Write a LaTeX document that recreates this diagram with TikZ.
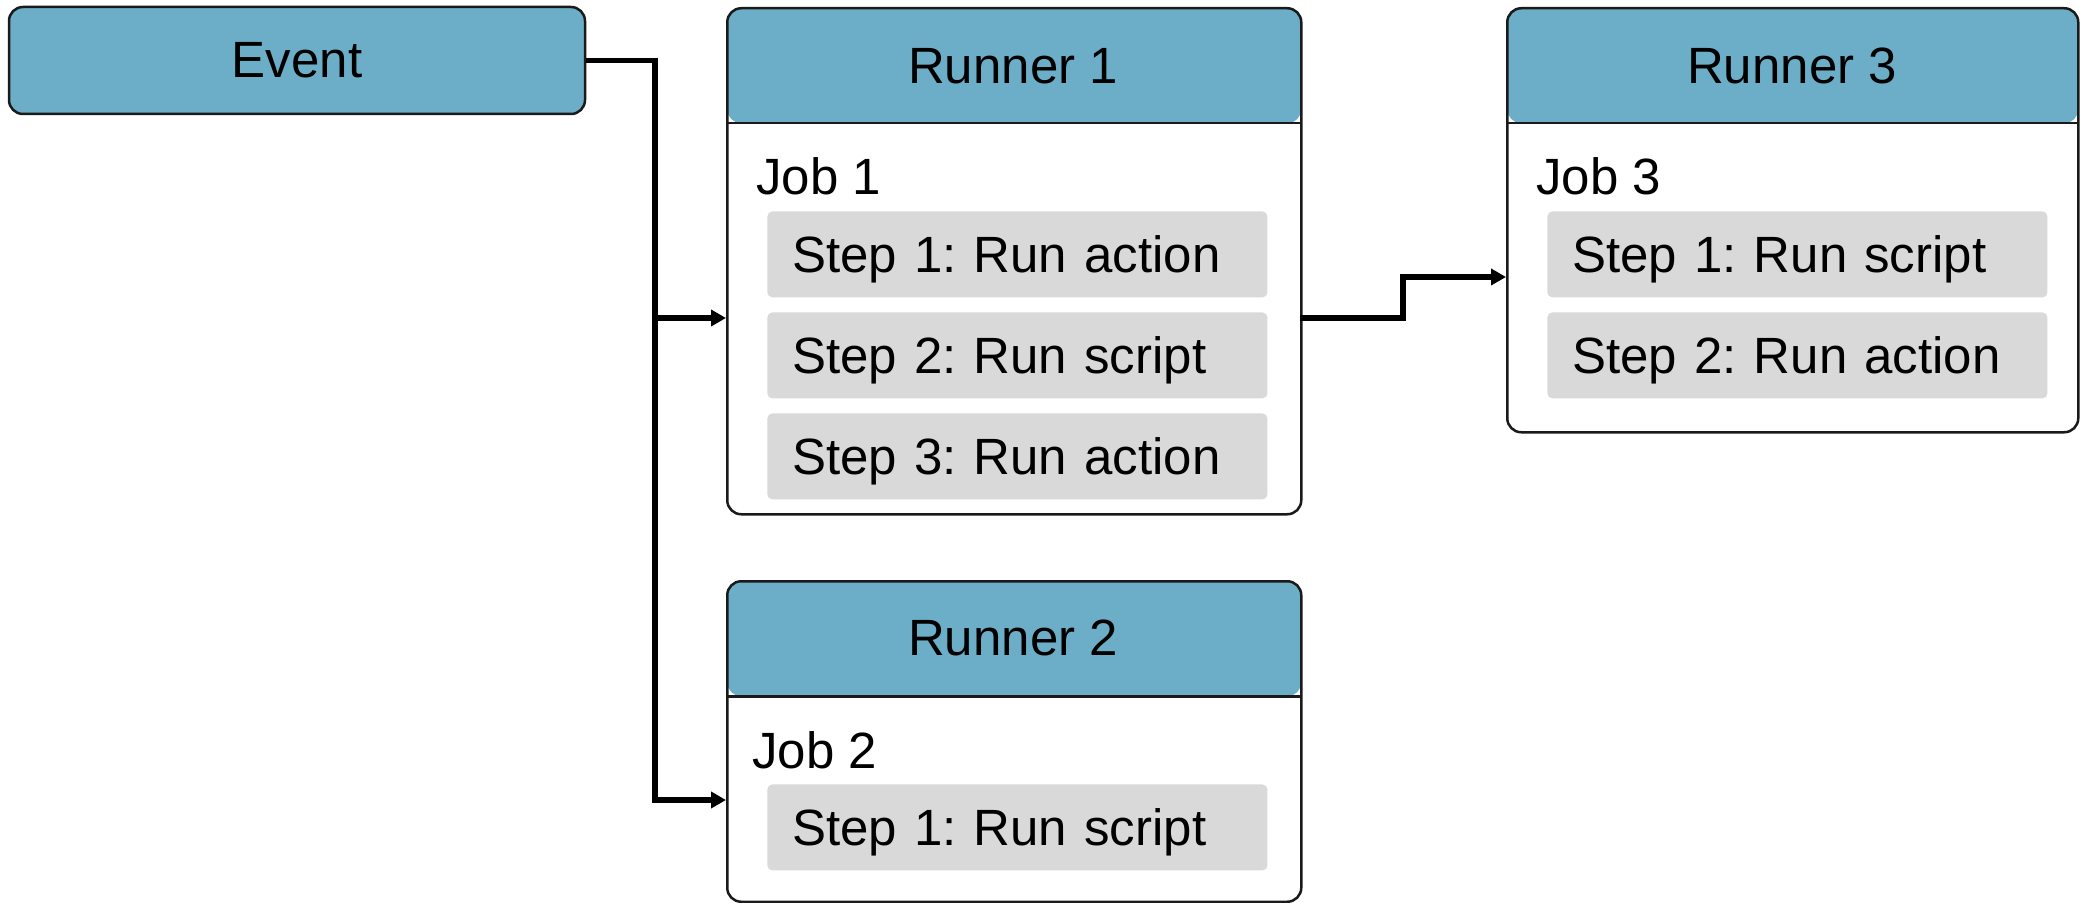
\documentclass[tikz,border=0pt]{standalone}
\usepackage{fontspec}
\setmainfont{Liberation Sans}
\usetikzlibrary{arrows.meta}
\definecolor{hdr}{HTML}{6CAEC8}
\definecolor{stepgray}{HTML}{D9D9D9}
\definecolor{edgec}{HTML}{1A1A1A}
\frenchspacing
\tikzset{
  txt/.style={font=\fontsize{25.5}{30}\selectfont, text=black},
  eventbox/.style={txt, draw=edgec, line width=1.25pt, rounded corners=7pt, fill=hdr,
    minimum width=288pt, minimum height=53.5pt, inner sep=0pt},
  runnerbox/.style={draw=edgec, line width=1.25pt, rounded corners=7pt, fill=white,
    anchor=north west, inner sep=0pt, minimum width=287pt,
    path picture={
      \fill[hdr] (path picture bounding box.north west) rectangle
        ([yshift=-57.5pt]path picture bounding box.north east);
      \draw[edgec, line width=1.25pt] ([yshift=-57.5pt]path picture bounding box.north west) --
        ([yshift=-57.5pt]path picture bounding box.north east);
    }},
  title/.style={txt, inner sep=0pt},
  joblabel/.style={txt, anchor=west, inner sep=0pt},
  stepbox/.style={txt, fill=stepgray, rounded corners=2.5pt, anchor=north west,
    text width=225pt, align=left, inner xsep=12.5pt, inner ysep=0pt,
    minimum height=43pt, text height=18.4pt, text depth=0pt},
  conn/.style={draw=black, line width=2.6pt},
  arr/.style={conn, -{Triangle[length=7.5pt,width=8pt]}}
}
\begin{document}
\begin{tikzpicture}[x=0.5pt,y=-0.5pt]
\useasboundingbox (0,0) rectangle (2080,903);

% Event
\node[eventbox] (ev) at (297,60.5) {Event};

% Runner 1
\node[runnerbox, minimum height=253pt] (r1) at (726,7) {};
\node[title] (r1t) at (1013,66) {Runner 1};
\node[joblabel] (j1) at (756,176) {Job 1};
\node[stepbox] (s11) at (767,211) {Step 1: Run action};
\node[stepbox] (s12) at (767,312) {Step 2: Run script};
\node[stepbox] (s13) at (767,413) {Step 3: Run action};

% Runner 2
\node[runnerbox, minimum height=160.25pt] (r2) at (726,580) {};
\node[title] (r2t) at (1013,638) {Runner 2};
\node[joblabel] (j2) at (752,750) {Job 2};
\node[stepbox] (s21) at (767,784) {Step 1: Run script};

% Runner 3
\node[runnerbox, minimum width=285.5pt, minimum height=212pt] (r3) at (1506,7) {};
\node[title] (r3t) at (1792,66) {Runner 3};
\node[joblabel] (j3) at (1536,176) {Job 3};
\node[stepbox] (s31) at (1547,211) {Step 1: Run script};
\node[stepbox] (s32) at (1547,312) {Step 2: Run action};

% connector coordinates
\coordinate (tr) at (655,60.5);
\coordinate (tb) at (655,318);
\coordinate (a1) at (726,318);
\coordinate (a2) at (726,800);
\coordinate (b1) at (1300,318);
\coordinate (k1) at (1403,318);
\coordinate (a3) at (1506,277);

\draw[arr] (ev.east) -- (tr) |- (a2);
\draw[arr] (tb) -- (a1);
\draw[arr] (b1) -- (k1) |- (a3);
\end{tikzpicture}
\end{document}
